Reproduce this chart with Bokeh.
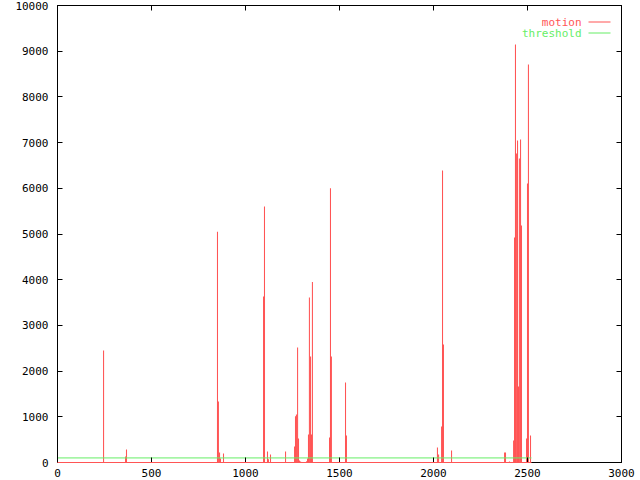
from bokeh.plotting import figure
from bokeh.models import (LinearAxis, FixedTicker, Range1d, Label, BoxAnnotation,
                          CustomLabelingPolicy)
from bokeh.embed import file_html
from bokeh.resources import INLINE

# ---- data ----
frames = [245, 362, 367, 851, 856, 862, 867, 883, 1096, 1101, 1117, 1122, 1133,
          1213, 1261, 1266, 1271, 1277, 1282, 1287, 1293, 1325, 1330, 1335, 1340,
          1346, 1351, 1356, 1447, 1452, 1457, 1532, 1537, 2021, 2027, 2043, 2048,
          2053, 2096, 2378, 2383, 2404, 2426, 2431, 2436, 2441, 2447, 2452, 2457,
          2463, 2468, 2495, 2500, 2505, 2516]
motion = [2450, 130, 285, 5050, 1335, 220, 90, 197, 3630, 5600, 240, 70, 175,
          240, 350, 1010, 1050, 2515, 525, 45, 22, 25, 90, 612, 3610,
          2320, 612, 3950, 547, 6000, 2320, 1750, 590, 328, 175, 788, 6390,
          2580, 263, 219, 219, 22, 481, 4923, 9146, 6760, 7046, 1665, 6652,
          7068, 5186, 525, 6105, 8709, 590]
series_span = [0, 2521]          # first and last frame of the motion series
baseline = [0, 0]                # motion is zero between the spikes
threshold = [100, 100]
x_ticks = [0, 500, 1000, 1500, 2000, 2500, 3000]
y_ticks = [0, 1000, 2000, 3000, 4000, 5000, 6000, 7000, 8000, 9000, 10000]

RED = "#ff5555"
GREEN = "#66ee66"
FONT = "DejaVu Sans Mono"
FS = "11px"

p = figure(frame_width=564, frame_height=457,
           x_range=Range1d(0, 3000), y_range=Range1d(0, 10000),
           output_backend="svg", toolbar_location=None,
           min_border_left=57, min_border_right=19,
           min_border_top=5, min_border_bottom=18)
p.background_fill_color = "white"
p.border_fill_color = "white"
p.outline_line_color = "black"
p.outline_line_width = 1
p.xgrid.grid_line_color = None
p.ygrid.grid_line_color = None

no_labels = CustomLabelingPolicy(code="""
for (const i of indices) {
    indices.unset(i)
}
""")

def style(ax, ticks, labels=True, standoff=8):
    ax.ticker = FixedTicker(ticks=ticks)
    ax.major_tick_in = 5
    ax.major_tick_out = 0
    ax.minor_tick_in = 0
    ax.minor_tick_out = 0
    ax.axis_line_color = "black"
    ax.major_tick_line_color = "black"
    if labels:
        ax.major_label_text_font = FONT
        ax.major_label_text_font_size = FS
        ax.major_label_text_color = "black"
        ax.major_label_standoff = standoff
    else:
        ax.major_label_policy = no_labels
        ax.major_label_text_font_size = "0px"
        ax.major_label_standoff = 0

style(p.xaxis[0], x_ticks, standoff=6)
style(p.yaxis[0], y_ticks, standoff=9)
top_ax = LinearAxis()
style(top_ax, x_ticks, labels=False)
p.add_layout(top_ax, "above")
right_ax = LinearAxis()
style(right_ax, y_ticks, labels=False)
p.add_layout(right_ax, "right")

p.vbar(x=frames, top=motion, bottom=0, width=5.6, fill_color=RED, line_color=None)
base = p.line(x=series_span, y=baseline, line_color=RED, line_width=1)
base.level = "overlay"
p.line(x=series_span, y=threshold, line_color=GREEN, line_width=1)

# gnuplot-style key: text right-aligned, sample line to its right
# (screen units are measured from the plot frame's lower-left corner)
p.add_layout(Label(x=524, y=440, x_units="screen", y_units="screen", text="motion",
                   text_align="right", text_baseline="middle", text_color=RED,
                   text_font=FONT, text_font_size=FS))
p.add_layout(Label(x=524, y=429.5, x_units="screen", y_units="screen", text="threshold",
                   text_align="right", text_baseline="middle", text_color=GREEN,
                   text_font=FONT, text_font_size=FS))
p.add_layout(BoxAnnotation(left=531, right=553, bottom=440, top=441,
                           left_units="screen", right_units="screen",
                           top_units="screen", bottom_units="screen",
                           fill_color=RED, fill_alpha=1, line_color=None))
p.add_layout(BoxAnnotation(left=531, right=553, bottom=429, top=430,
                           left_units="screen", right_units="screen",
                           top_units="screen", bottom_units="screen",
                           fill_color=GREEN, fill_alpha=1, line_color=None))

open("out.html", "w").write(file_html(p, INLINE))
